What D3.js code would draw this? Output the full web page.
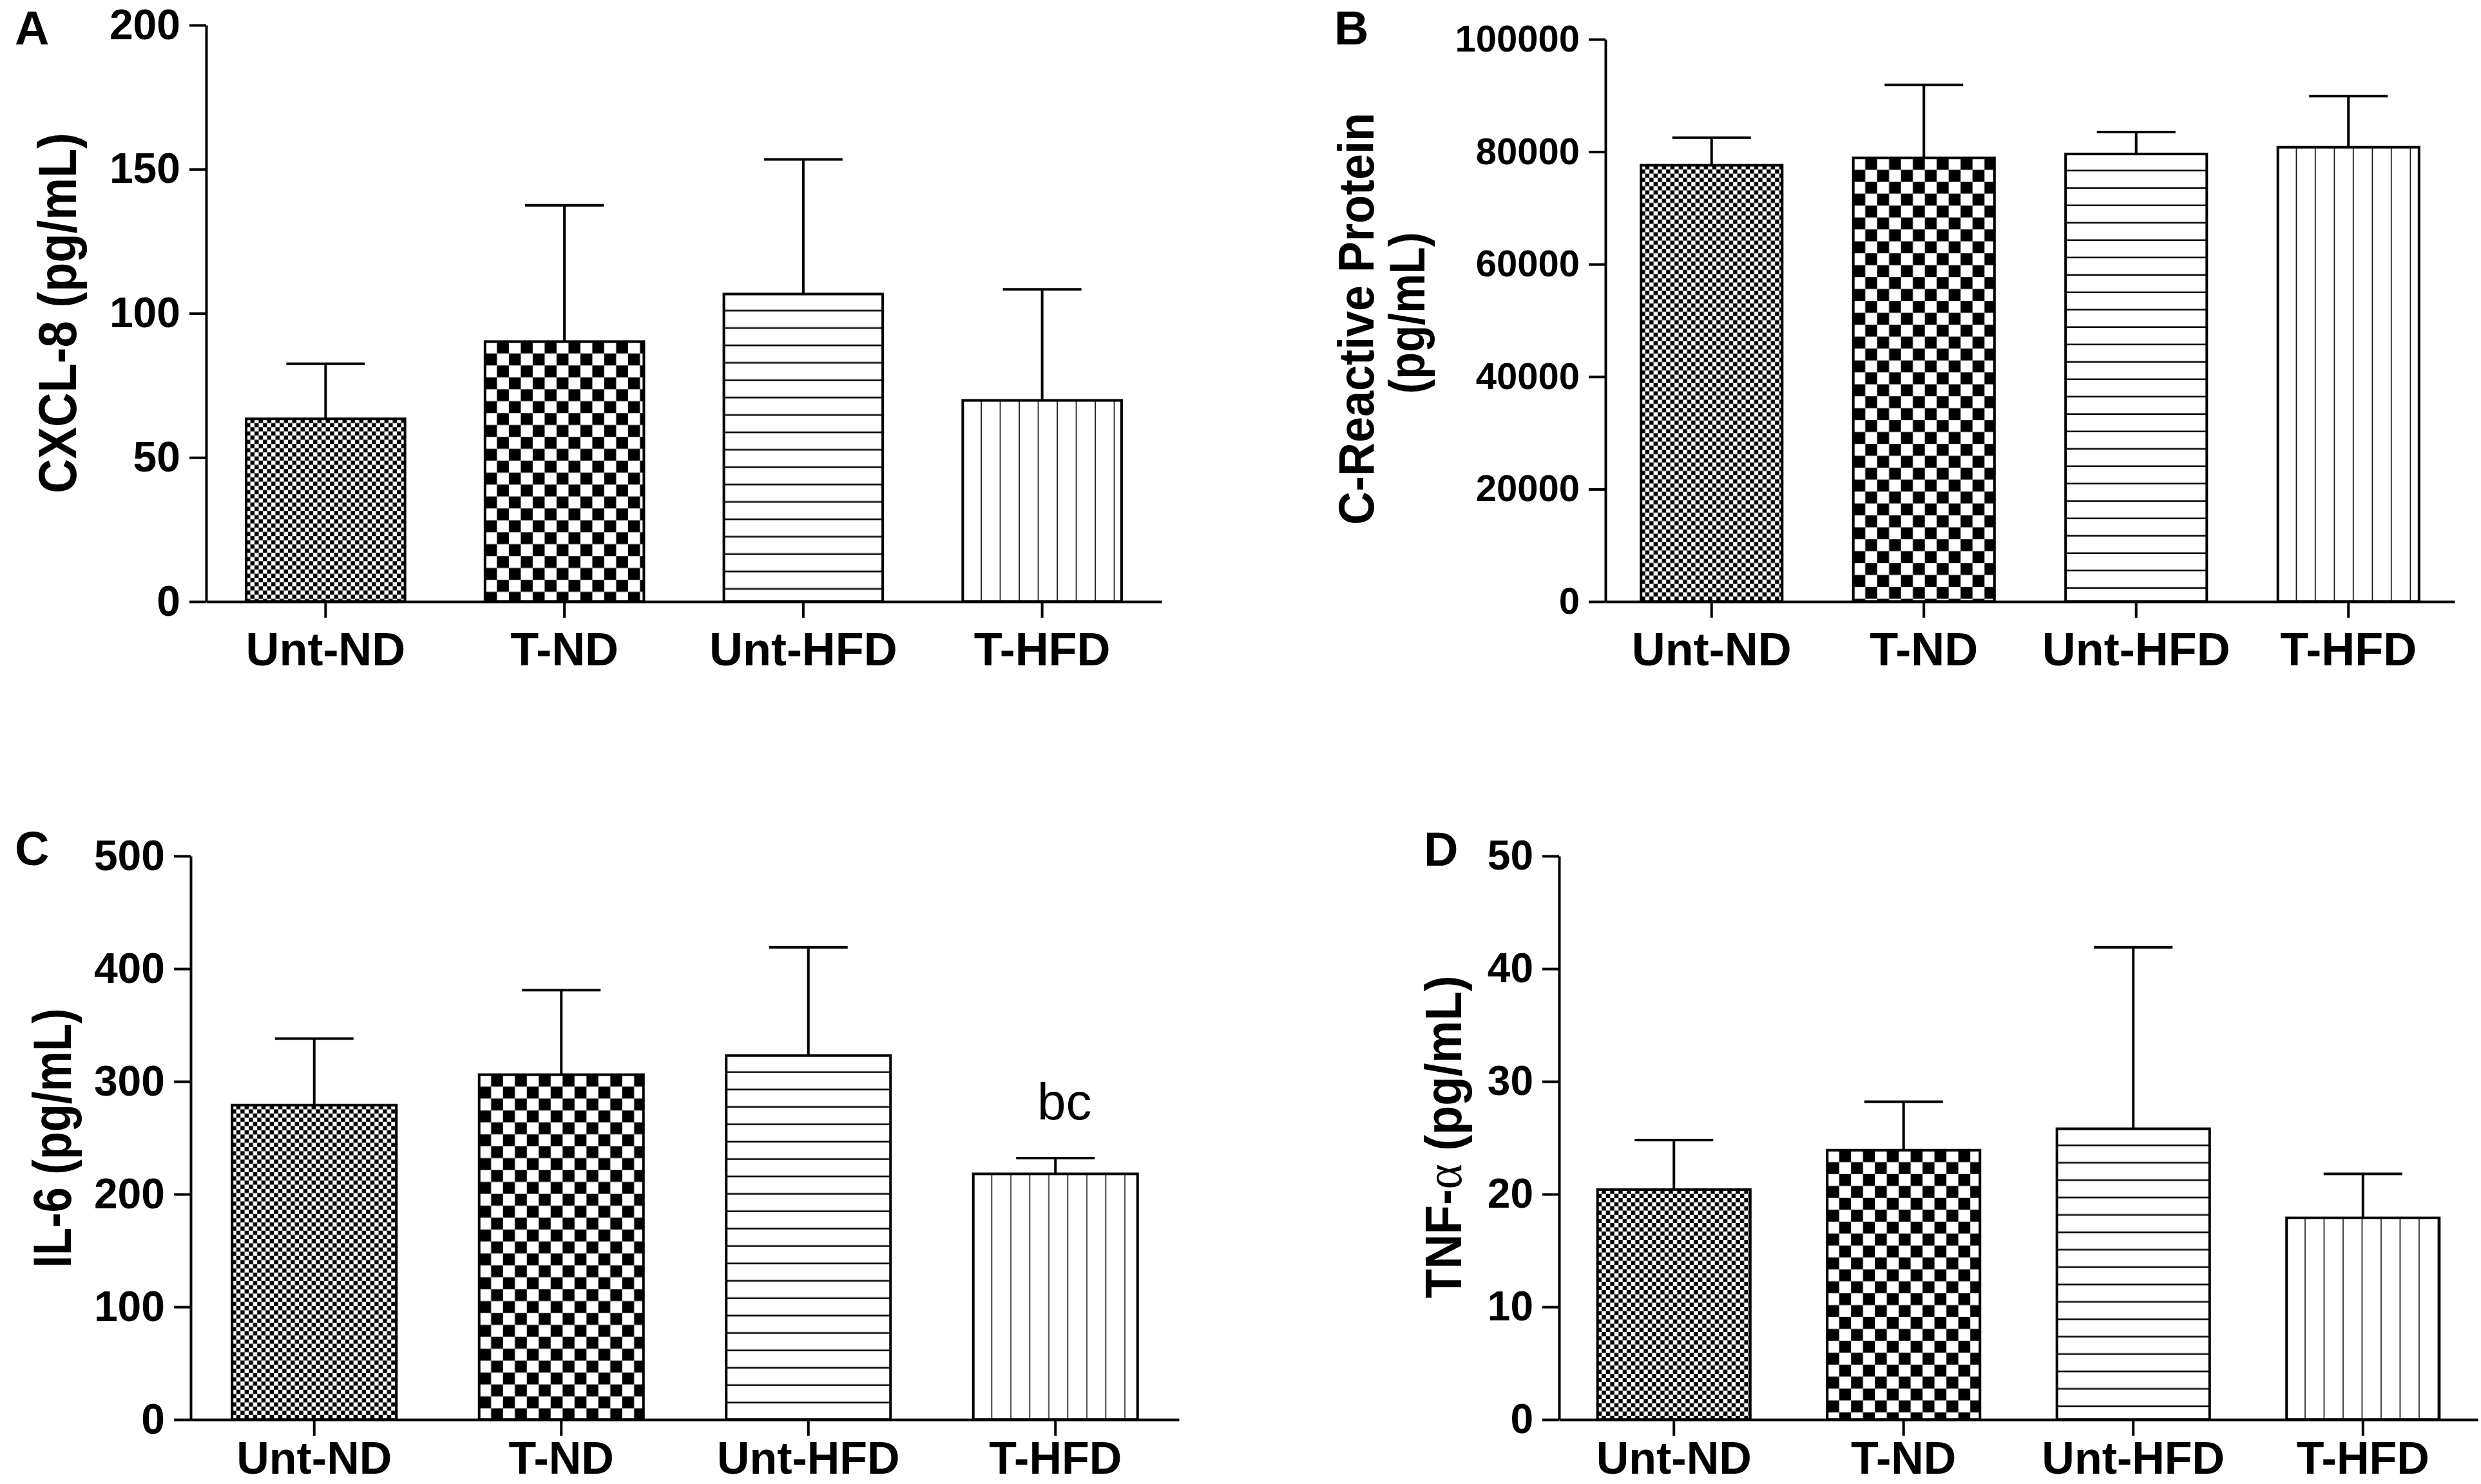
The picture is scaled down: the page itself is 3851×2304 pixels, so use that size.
<!DOCTYPE html>
<html>
<head>
<meta charset="utf-8">
<script src="https://cdn.jsdelivr.net/npm/d3@7"></script>
<style>
  body { margin: 0; background: #fff; }
  svg { display: block; }
</style>
</head>
<body>
<div id="graph"></div>
<script>
// data
const groups = ['Unt-ND', 'T-ND', 'Unt-HFD', 'T-HFD'];

const cxcl8Mean = [63.4, 90.2, 106.7, 69.8];
const cxcl8Err = [19.1, 47.3, 46.7, 38.5];
const cxcl8Ticks = [0, 50, 100, 150, 200];

const crpMean = [77600, 78900, 79600, 80800];
const crpErr = [4900, 13000, 3900, 9100];
const crpTicks = [0, 20000, 40000, 60000, 80000, 100000];

const il6Mean = [279, 306, 323, 218];
const il6Err = [59, 75, 96, 14];
const il6Ticks = [0, 100, 200, 300, 400, 500];

const tnfMean = [20.4, 23.9, 25.8, 17.9];
const tnfErr = [4.4, 4.3, 16.1, 3.9];
const tnfTicks = [0, 10, 20, 30, 40, 50];

const fills = ['smallCheck', 'bigCheck', 'hLines', 'vLines'];

const W = 3851, H = 2304;
const font = '"Liberation Sans", Arial, sans-serif';

const svg = d3.select('#graph')
  .append('svg')
  .attr('width', W)
  .attr('height', H);

const defs = svg.append('defs');

function makePattern(id, kind, x, y) {
  const p = defs.append('pattern')
    .attr('id', id)
    .attr('patternUnits', 'userSpaceOnUse')
    .attr('x', x)
    .attr('y', y);
  if (kind === 'smallCheck' || kind === 'bigCheck') {
    const c = kind === 'smallCheck' ? 6.5 : 18.5;
    p.attr('width', 2 * c).attr('height', 2 * c);
    p.append('rect').attr('width', 2 * c).attr('height', 2 * c).attr('fill', '#fff');
    p.append('rect').attr('x', c).attr('y', 0).attr('width', c).attr('height', c).attr('fill', '#000');
    p.append('rect').attr('x', 0).attr('y', c).attr('width', c).attr('height', c).attr('fill', '#000');
  } else if (kind === 'hLines') {
    p.attr('width', 10).attr('height', 27);
    p.append('rect').attr('width', 10).attr('height', 27).attr('fill', '#fff');
    p.append('rect').attr('y', 24.5).attr('width', 10).attr('height', 3).attr('fill', '#000');
  } else {
    p.attr('width', 29.5).attr('height', 10);
    p.append('rect').attr('width', 29.5).attr('height', 10).attr('fill', '#fff');
    p.append('rect').attr('x', 28).attr('width', 3).attr('height', 10).attr('fill', '#000');
  }
}

function drawPanel(cfg) {
  const g = svg.append('g').attr('class', 'panel-' + cfg.letter);

  const x = d3.scaleBand()
    .domain(groups)
    .range([cfg.x0, cfg.x1])
    .paddingInner(0.335)
    .paddingOuter(0.1675);

  const y = d3.scaleLinear()
    .domain([0, d3.max(cfg.ticks)])
    .range([cfg.yBase, cfg.yTop]);

  // bars with their hatch fills
  groups.forEach((grp, i) => {
    const id = `fill-${cfg.letter}-${i}`;
    makePattern(id, fills[i], x(grp), y(cfg.mean[i]));
    g.append('rect')
      .attr('x', x(grp))
      .attr('y', y(cfg.mean[i]))
      .attr('width', x.bandwidth())
      .attr('height', y(0) - y(cfg.mean[i]))
      .attr('fill', `url(#${id})`)
      .attr('stroke', '#000')
      .attr('stroke-width', 4);
  });

  // error bars (upper only)
  const capHalf = 61;
  groups.forEach((grp, i) => {
    const cx = x(grp) + x.bandwidth() / 2;
    const top = y(cfg.mean[i] + cfg.err[i]);
    g.append('line')
      .attr('x1', cx).attr('x2', cx)
      .attr('y1', y(cfg.mean[i])).attr('y2', top)
      .attr('stroke', '#000').attr('stroke-width', 4);
    g.append('line')
      .attr('x1', cx - capHalf).attr('x2', cx + capHalf)
      .attr('y1', top).attr('y2', top)
      .attr('stroke', '#000').attr('stroke-width', 4);
  });

  // axes
  const yAxis = g.append('g')
    .attr('transform', `translate(${cfg.x0}, 0)`)
    .call(d3.axisLeft(y)
      .tickValues(cfg.ticks)
      .tickFormat(d3.format('d'))
      .tickSize(26)
      .tickSizeOuter(0)
      .tickPadding(14));

  const xAxis = g.append('g')
    .attr('transform', `translate(0, ${cfg.yBase})`)
    .call(d3.axisBottom(x)
      .tickSize(25)
      .tickSizeOuter(0)
      .tickPadding(cfg.labelPad));

  [yAxis, xAxis].forEach(a => {
    a.select('.domain').attr('stroke-width', 4);
    a.selectAll('.tick line').attr('stroke-width', 4);
    a.selectAll('text')
      .attr('fill', '#000')
      .attr('font-family', font)
      .attr('font-weight', 'bold');
  });
  yAxis.selectAll('text').attr('font-size', cfg.tickFont);
  xAxis.selectAll('text').attr('font-size', cfg.labelFont);

  // y axis title
  cfg.title.forEach(t => {
    const txt = g.append('text')
      .attr('transform', `translate(${t.bx}, ${t.cy}) rotate(-90)`)
      .attr('text-anchor', 'middle')
      .attr('font-family', font)
      .attr('font-weight', 'bold')
      .attr('font-size', t.size)
      .attr('textLength', t.len)
      .attr('lengthAdjust', 'spacingAndGlyphs');
    t.parts.forEach(pt => {
      const s = txt.append('tspan').text(pt.text);
      if (pt.greek) {
        s.attr('font-family', '"Liberation Serif", "DejaVu Serif", serif')
          .attr('font-weight', 'normal');
      }
    });
  });

  // panel letter
  g.append('text')
    .attr('x', cfg.lx)
    .attr('y', cfg.ly)
    .attr('font-family', font)
    .attr('font-weight', 'bold')
    .attr('font-size', 74)
    .text(cfg.letter);

  return { g, x, y };
}

drawPanel({
  letter: 'A', mean: cxcl8Mean, err: cxcl8Err, ticks: cxcl8Ticks,
  x0: 320, x1: 1803, yBase: 934, yTop: 39, labelPad: 23, labelFont: 72, tickFont: 66,
  lx: 23, ly: 69,
  title: [{ bx: 118, cy: 486, size: 84, len: 560, parts: [{ text: 'CXCL-8 (pg/mL)' }] }]
});

drawPanel({
  letter: 'B', mean: crpMean, err: crpErr, ticks: crpTicks,
  x0: 2492, x1: 3810, yBase: 934, yTop: 61, labelPad: 23, labelFont: 72, tickFont: 58,
  lx: 2071, ly: 69,
  title: [
    { bx: 2132, cy: 495, size: 77, len: 640, parts: [{ text: 'C-Reactive Protein' }] },
    { bx: 2211, cy: 486, size: 77, len: 251, parts: [{ text: '(pg/mL)' }] }
  ]
});

const panelC = drawPanel({
  letter: 'C', mean: il6Mean, err: il6Err, ticks: il6Ticks,
  x0: 296, x1: 1830, yBase: 2204, yTop: 1329, labelPad: 9, labelFont: 70, tickFont: 66,
  lx: 23, ly: 1343,
  title: [{ bx: 110, cy: 1767, size: 84, len: 403, parts: [{ text: 'IL-6 (pg/mL)' }] }]
});

// significance mark over T-HFD in panel C
panelC.g.append('text')
  .attr('x', panelC.x('T-HFD') + panelC.x.bandwidth() / 2 + 14)
  .attr('y', panelC.y(il6Mean[3] + il6Err[3]) - 60)
  .attr('text-anchor', 'middle')
  .attr('font-family', font)
  .attr('font-size', 80)
  .text('bc');

drawPanel({
  letter: 'D', mean: tnfMean, err: tnfErr, ticks: tnfTicks,
  x0: 2420, x1: 3846, yBase: 2204, yTop: 1329, labelPad: 9, labelFont: 70, tickFont: 64,
  lx: 2210, ly: 1344,
  title: [{ bx: 2268, cy: 1765, size: 80, len: 501,
    parts: [{ text: 'TNF-' }, { text: '\u03B1', greek: true }, { text: '  (pg/mL)' }] }]
});
</script>
</body>
</html>
